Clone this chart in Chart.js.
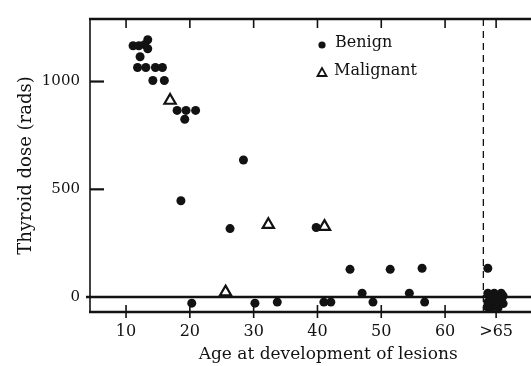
<!DOCTYPE html>
<html>
<head>
<meta charset="utf-8">
<script src="https://cdn.jsdelivr.net/npm/chart.js@4/dist/chart.umd.min.js"></script>
<style>
  html, body { margin: 0; padding: 0; background: #fff; overflow: hidden; }
  #wrap { width: 531px; height: 366px; overflow: hidden; }
</style>
</head>
<body>
<div id="wrap"><canvas id="dose" width="575" height="366"></canvas></div>
<script>
// age at development of lesions (years), thyroid dose (rads)
const benignAge = [11.1, 12.0, 12.9, 13.4, 13.4, 12.2, 11.8, 13.1, 14.6, 15.7, 14.2, 16.0,
  18.0, 19.4, 20.9, 19.2, 18.6, 28.4, 26.3, 20.3, 30.2, 33.7, 39.8, 45.1, 51.4, 56.4,
  47.0, 54.4, 41.0, 42.1, 48.7, 56.8, 66.7,
  66.7, 67.7, 68.8, 66.7, 67.7, 68.8, 67.2, 68.3, 67.2, 68.3, 69.1, 66.6, 69.1]
const benignDose = [1166, 1166, 1171, 1194, 1152, 1115, 1065, 1065, 1065, 1065, 1005, 1005,
  866, 866, 866, 825, 447, 636, 318, -28, -28, -23, 323, 129, 129, 134,
  18, 18, -23, -23, -23, -23, 134,
  18, 18, 18, -23, -23, -23, -50, -50, -5, -5, -30, -45, 5]

const malignantAge = [16.9, 25.6, 32.3, 41.1]
const malignantDose = [912, 23, 336, 327]

// ">65" group sits past the cutoff line
const cutoffAge = 66
const xTickValues = [10, 20, 30, 40, 50, 60, 68]
const xTickLabels = ['10', '20', '30', '40', '50', '60', '>65']
const yTickValues = [0, 500, 1000]

const ink = '#121212'
const serif = "'DejaVu Serif', 'Liberation Serif', serif"

const toPoints = (xs, ys) => xs.map((x, i) => ({ x: x, y: ys[i] }))

// frame, tick marks, zero line and the dashed cutoff
const framePlugin = {
  id: 'frame',
  beforeDatasetsDraw(chart) {
    const ctx = chart.ctx
    const a = chart.chartArea
    const xs = chart.scales.x
    const ys = chart.scales.y
    ctx.save()
    ctx.strokeStyle = ink
    ctx.lineCap = 'butt'

    ctx.lineWidth = 1.6
    ctx.beginPath()
    ctx.moveTo(a.left, a.bottom)
    ctx.lineTo(a.left, a.top)
    ctx.stroke()
    ctx.lineWidth = 2.4
    ctx.beginPath()
    ctx.moveTo(a.left - 1, a.top)
    ctx.lineTo(a.right, a.top)
    ctx.moveTo(a.left - 1, a.bottom)
    ctx.lineTo(a.right, a.bottom)
    ctx.stroke()

    // zero line
    const y0 = ys.getPixelForValue(0)
    ctx.lineWidth = 2.5
    ctx.beginPath()
    ctx.moveTo(a.left - 4, y0)
    ctx.lineTo(a.right, y0)
    ctx.stroke()

    // x ticks: top inward, bottom crossing the axis
    ctx.lineWidth = 1.6
    xTickValues.forEach((v) => {
      const px = xs.getPixelForValue(v)
      ctx.beginPath()
      ctx.moveTo(px, a.top)
      ctx.lineTo(px, a.top + 9)
      ctx.moveTo(px, a.bottom - 7)
      ctx.lineTo(px, a.bottom + 6)
      ctx.stroke()
    })

    // y ticks
    ctx.lineWidth = 2.2
    yTickValues.filter((v) => v !== 0).forEach((v) => {
      const py = ys.getPixelForValue(v)
      ctx.beginPath()
      ctx.moveTo(a.left, py)
      ctx.lineTo(a.left + 14, py)
      ctx.stroke()
    })

    // cutoff
    const cx = xs.getPixelForValue(cutoffAge)
    ctx.lineWidth = 1.3
    ctx.setLineDash([7, 5])
    ctx.beginPath()
    ctx.moveTo(cx, a.top)
    ctx.lineTo(cx, a.bottom)
    ctx.stroke()
    ctx.restore()
  },
  afterDraw(chart) {
    const ctx = chart.ctx
    const a = chart.chartArea
    const lx = a.left + 232
    const ly = a.top + 26
    ctx.save()
    ctx.fillStyle = ink
    ctx.strokeStyle = ink
    ctx.beginPath()
    ctx.arc(lx, ly, 3.6, 0, Math.PI * 2)
    ctx.fill()
    ctx.lineWidth = 1.8
    ctx.beginPath()
    ctx.moveTo(lx, ly + 23)
    ctx.lineTo(lx - 4.5, ly + 31)
    ctx.lineTo(lx + 4.5, ly + 31)
    ctx.closePath()
    ctx.stroke()
    ctx.font = '16px ' + serif
    ctx.textBaseline = 'middle'
    ctx.fillText('Benign', lx + 13, ly - 2)
    ctx.fillText('Malignant', lx + 12, ly + 26)
    ctx.restore()
  },
}

new Chart(document.getElementById('dose'), {
  type: 'scatter',
  data: {
    datasets: [
      {
        label: 'Benign',
        data: toPoints(benignAge, benignDose),
        pointStyle: 'circle',
        pointRadius: 4.5,
        pointBackgroundColor: ink,
        pointBorderWidth: 0,
      },
      {
        label: 'Malignant',
        data: toPoints(malignantAge, malignantDose),
        pointStyle: 'triangle',
        pointRadius: 6.5,
        pointBackgroundColor: '#fff',
        pointBorderColor: ink,
        pointBorderWidth: 2.2,
      },
    ],
  },
  options: {
    responsive: false,
    devicePixelRatio: 1,
    animation: false,
    layout: { padding: { top: 17, right: 3, left: 0, bottom: 0 } },
    plugins: { legend: { display: false }, tooltip: { enabled: false } },
    scales: {
      x: {
        type: 'linear',
        min: 4.35,
        max: 79,
        grid: { display: false, drawTicks: false },
        border: { display: false },
        afterFit: (s) => { s.height = 54 },
        afterBuildTicks: (s) => { s.ticks = xTickValues.map((v) => ({ value: v })) },
        ticks: {
          autoSkip: false,
          maxRotation: 0,
          padding: 10,
          color: ink,
          font: { family: serif, size: 16 },
          callback: (v) => xTickLabels[xTickValues.indexOf(v)],
        },
        title: {
          display: true,
          text: 'Age at development of lesions',
          color: ink,
          font: { family: serif, size: 17 },
          padding: { top: 0, bottom: 1 },
        },
      },
      y: {
        type: 'linear',
        min: -69,
        max: 1290,
        grid: { display: false, drawTicks: false },
        border: { display: false },
        afterFit: (s) => { s.width = 90 },
        afterBuildTicks: (s) => { s.ticks = yTickValues.map((v) => ({ value: v })) },
        ticks: {
          padding: 10,
          color: ink,
          font: { family: serif, size: 15 },
          callback: (v) => String(v),
        },
        title: {
          display: true,
          text: 'Thyroid dose (rads)',
          color: ink,
          font: { family: serif, size: 18 },
          padding: { top: 16, bottom: 0 },
        },
      },
    },
  },
  plugins: [framePlugin],
})
</script>
</body>
</html>
